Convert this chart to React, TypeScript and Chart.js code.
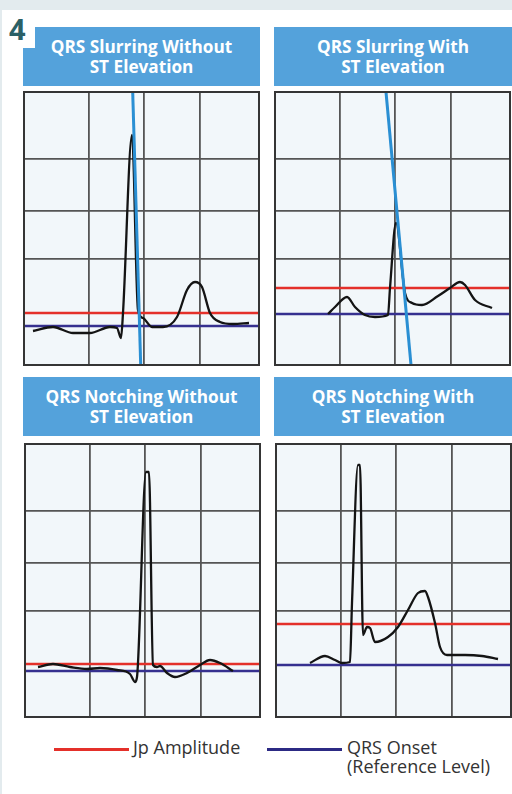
import React, { useEffect, useRef } from "react";
import { Chart, registerables } from "chart.js";

Chart.register(...registerables);

// ---- Data (units: horizontal time units across the strip, vertical amplitude units) ----
const X_MAX = 235;
const Y_MAX = 273;
const X_GRID = [65, 120, 176];
const Y_GRID = [106, 154, 206];

const TITLES = [
  ["QRS Slurring Without", "ST Elevation"],
  ["QRS Slurring With", "ST Elevation"],
  ["QRS Notching Without", "ST Elevation"],
  ["QRS Notching With", "ST Elevation"],
];

// Panel 1: slurring without ST elevation
const ecg1X = [9, 29, 49, 66, 86, 93, 97, 99, 108, 114, 119, 128, 139, 153, 163, 171, 178, 186, 196, 209, 225];
const ecg1Y = [34, 38, 32, 32, 38, 37, 27, 52, 230, 55, 47, 38, 38, 48, 75, 83, 78, 52, 43, 41, 42];
// Panel 2: slurring with ST elevation
const ecg2X = [53, 60, 72, 80, 90, 100, 113, 115, 121, 130, 137, 147, 163, 175, 185, 190, 200, 217];
const ecg2Y = [51, 58, 68, 58, 50, 48, 50, 77, 142, 72, 62, 60, 69, 77, 83, 80, 65, 57];
// Panel 3: notching without ST elevation
const ecg3X = [13, 28, 45, 62, 75, 92, 105, 110, 112, 121, 124, 128, 132, 135, 142, 150, 162, 175, 185, 195, 208];
const ecg3Y = [50, 53, 50, 48, 49, 47, 43, 35, 40, 245, 245, 52, 50, 51, 44, 40, 44, 52, 57, 54, 46];
// Panel 4: notching with ST elevation
const ecg4X = [34, 49, 59, 66, 74, 76, 82, 84, 87, 91, 94, 99, 112, 122, 132, 142, 149, 152, 159, 164, 171, 189, 206, 222];
const ecg4Y = [54, 61, 57, 54, 55, 114, 252, 252, 82, 90, 89, 75, 80, 90, 107, 124, 126, 120, 94, 70, 62, 62, 61, 58];

// Reference levels per panel
const JP_AMPLITUDE = [52, 77, 53, 93];
const QRS_ONSET = [39, 51, 46, 52];

// Slur tangent lines (panels 1 and 2 only)
const SLUR1_X = [108.7, 116.7];
const SLUR1_Y = [273, 0];
const SLUR2_X = [111, 136];
const SLUR2_Y = [273, 0];

const ECG_X = [ecg1X, ecg2X, ecg3X, ecg4X];
const ECG_Y = [ecg1Y, ecg2Y, ecg3Y, ecg4Y];
const SLUR: (null | { x: number[]; y: number[] })[] = [
  { x: SLUR1_X, y: SLUR1_Y },
  { x: SLUR2_X, y: SLUR2_Y },
  null,
  null,
];

const RED = "#e4302a";
const NAVY = "#36308f";
const SKY = "#2a8fd3";
const TITLE_BG = "#54a2db";

const zip = (xs: number[], ys: number[]) => xs.map((x, i) => ({ x, y: ys[i] }));

const PAD = 3;

const framePlugin = {
  id: "frame",
  beforeDraw(chart: any) {
    const { ctx, chartArea: a } = chart;
    ctx.save();
    ctx.fillStyle = "#f2f7fa";
    ctx.fillRect(a.left, a.top, a.right - a.left, a.bottom - a.top);
    ctx.restore();
  },
  afterDraw(chart: any) {
    const { ctx, chartArea: a } = chart;
    ctx.save();
    ctx.strokeStyle = "#353535";
    ctx.lineWidth = 2;
    ctx.strokeRect(a.left, a.top, a.right - a.left, a.bottom - a.top);
    ctx.restore();
  },
};

function Strip({ idx, left, top }: { idx: number; left: number; top: number }) {
  const ref = useRef<HTMLCanvasElement | null>(null);
  useEffect(() => {
    if (!ref.current) return;
    const datasets: any[] = [
      {
        data: zip([0, X_MAX], [QRS_ONSET[idx], QRS_ONSET[idx]]),
        borderColor: NAVY,
        borderWidth: 2.5,
        pointRadius: 0,
        order: 3,
      },
      {
        data: zip([0, X_MAX], [JP_AMPLITUDE[idx], JP_AMPLITUDE[idx]]),
        borderColor: RED,
        borderWidth: 2.5,
        pointRadius: 0,
        order: 2,
      },
      {
        data: zip(ECG_X[idx], ECG_Y[idx]),
        borderColor: "#141414",
        borderWidth: 2.3,
        pointRadius: 0,
        cubicInterpolationMode: "monotone",
        order: 1,
      },
    ];
    const s = SLUR[idx];
    if (s) {
      datasets.push({
        data: zip(s.x, s.y),
        borderColor: SKY,
        borderWidth: 3,
        pointRadius: 0,
        order: 0,
      });
    }
    const chart = new Chart(ref.current, {
      type: "line",
      data: { datasets },
      plugins: [framePlugin],
      options: {
        animation: false,
        responsive: false,
        maintainAspectRatio: false,
        layout: { padding: PAD },
        plugins: { legend: { display: false }, tooltip: { enabled: false } },
        events: [],
        scales: {
          x: {
            type: "linear",
            min: 0,
            max: X_MAX,
            ticks: { display: false },
            grid: { color: "#555555", lineWidth: 1.8, drawTicks: false },
            border: { display: false },
            afterBuildTicks: (sc: any) => {
              sc.ticks = X_GRID.map((v) => ({ value: v }));
            },
          },
          y: {
            type: "linear",
            min: 0,
            max: Y_MAX,
            ticks: { display: false },
            grid: { color: "#555555", lineWidth: 1.8, drawTicks: false },
            border: { display: false },
            afterBuildTicks: (sc: any) => {
              sc.ticks = Y_GRID.map((v) => ({ value: v }));
            },
          },
        },
      } as any,
    });
    return () => chart.destroy();
  }, [idx]);
  const w = X_MAX + PAD * 2;
  const h = Y_MAX + PAD * 2;
  return (
    <canvas
      ref={ref}
      width={w}
      height={h}
      style={{ position: "absolute", left: left - PAD, top: top - PAD, width: w, height: h }}
    />
  );
}

function TitleBox({ idx, left, top, width }: { idx: number; left: number; top: number; width: number }) {
  return (
    <div
      style={{
        position: "absolute",
        left,
        top,
        width,
        height: 59,
        background: TITLE_BG,
        color: "#fff",
        fontFamily: "'Open Sans', sans-serif",
        fontWeight: 700,
        fontSize: 17.2,
        lineHeight: "19.5px",
        display: "flex",
        flexDirection: "column",
        alignItems: "center",
        justifyContent: "center",
        textAlign: "center",
      }}
    >
      <div>{TITLES[idx][0]}</div>
      <div>{TITLES[idx][1]}</div>
    </div>
  );
}

export default function App() {
  const legendText: React.CSSProperties = {
    position: "absolute",
    fontFamily: "'Open Sans', sans-serif",
    fontSize: 18,
    lineHeight: "19px",
    color: "#333",
    whiteSpace: "nowrap",
  };
  return (
    <div
      style={{
        position: "absolute",
        left: 0,
        top: 0,
        width: 512,
        height: 794,
        background: "#e3ebee",
        overflow: "hidden",
      }}
    >
      <div style={{ position: "absolute", left: 2, top: 10, width: 510, height: 784, background: "#ffffff" }} />
      <TitleBox idx={0} left={23} top={27} width={237} />
      <TitleBox idx={1} left={274} top={27} width={238} />
      <TitleBox idx={2} left={23} top={377} width={237} />
      <TitleBox idx={3} left={274} top={377} width={238} />
      <div style={{ position: "absolute", left: 2, top: 10, width: 33, height: 38, background: "#ffffff" }} />
      <div
        style={{
          position: "absolute",
          left: 9,
          top: 11,
          fontFamily: "'Open Sans', sans-serif",
          fontWeight: 700,
          fontSize: 29,
          lineHeight: "36px",
          color: "#2b6066",
        }}
      >
        4
      </div>
      <Strip idx={0} left={24} top={92} />
      <Strip idx={1} left={275} top={92} />
      <Strip idx={2} left={25} top={444} />
      <Strip idx={3} left={276} top={444} />
      <div style={{ position: "absolute", left: 54, top: 747.5, width: 75, height: 3, background: RED }} />
      <div style={{ ...legendText, left: 133, top: 738 }}>Jp Amplitude</div>
      <div style={{ position: "absolute", left: 267, top: 747.5, width: 75, height: 3, background: "#2c2a84" }} />
      <div style={{ ...legendText, left: 347, top: 738 }}>
        QRS Onset
        <br />
        (Reference Level)
      </div>
    </div>
  );
}
